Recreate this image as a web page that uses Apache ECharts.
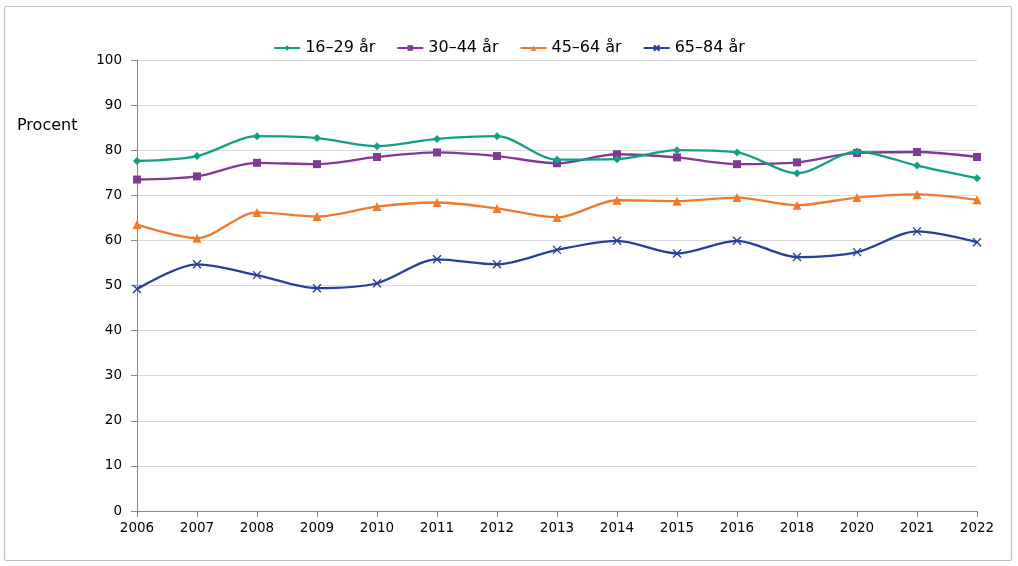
<!DOCTYPE html>
<html><head><meta charset="utf-8">
<script src="https://cdn.jsdelivr.net/npm/echarts@6/dist/echarts.min.js"></script>
<style>html,body{margin:0;padding:0;background:#fff}#c{width:1018px;height:566px}</style>
</head><body><div id="c"></div>
<script>
const years = ['2006','2007','2008','2009','2010','2011','2012','2013','2014','2015','2016','2018','2020','2021','2022'];
const yTicks = [0,10,20,30,40,50,60,70,80,90,100];
const s16_29 = [77.6,78.7,83.1,82.7,80.9,82.5,83.1,77.9,78.0,80.0,79.5,74.9,79.7,76.6,73.8];
const s30_44 = [73.5,74.2,77.2,76.9,78.5,79.5,78.7,77.1,79.1,78.4,76.9,77.3,79.4,79.6,78.5];
const s45_64 = [63.5,60.5,66.2,65.3,67.5,68.4,67.1,65.1,68.9,68.7,69.5,67.8,69.5,70.2,69.0];
const s65_84 = [49.2,54.7,52.3,49.4,50.5,55.8,54.7,57.9,59.9,57.1,59.9,56.3,57.4,62.0,59.6];
const names = ['16–29 år','30–44 år','45–64 år','65–84 år'];
const colors = ['#12a085','#7f3a93','#f07a2c','#263f98'];
const symbols = ['diamond','rect','triangle','path://M0,0L10,10M10,0L0,10'];
const sizes = [8,8,9,8];
const data = [s16_29,s30_44,s45_64,s65_84];
const FONT = 'DejaVu Sans';
const chart = echarts.init(document.getElementById('c'));
chart.setOption({
  animation:false,
  textStyle:{fontFamily:FONT},
  graphic:[{type:'rect',shape:{x:4.5,y:6.5,width:1007,height:554,r:2},style:{fill:'none',stroke:'#bfbfbf',lineWidth:1.2},silent:true},
           {type:'text',left:17,top:118,style:{text:'Procent',font:'16px "DejaVu Sans"',fill:'#000'}}],
  legend:{left:'center',top:35,itemWidth:26,itemHeight:7,itemGap:21,textStyle:{fontSize:16,color:'#000',fontFamily:FONT},
    data:names.map((n,i)=>({name:n}))},
  grid:{left:137,right:41,top:60,bottom:55,containLabel:false},
  xAxis:{type:'category',data:years,boundaryGap:false,
    axisLine:{lineStyle:{color:'#868686',width:1}},
    axisTick:{show:true,alignWithLabel:true,length:6,lineStyle:{color:'#868686'}},
    axisLabel:{color:'#000',fontSize:13.5,margin:10,fontFamily:FONT},
    splitLine:{show:false}},
  yAxis:{type:'value',min:0,max:100,interval:10,
    axisLine:{show:true,lineStyle:{color:'#868686',width:1}},
    axisTick:{show:true,length:6,lineStyle:{color:'#868686'}},
    axisLabel:{color:'#000',fontSize:13.5,margin:15,fontFamily:FONT,formatter:v=>yTicks.includes(v)?String(v):''},
    splitLine:{show:true,lineStyle:{color:'#d9d9d9',width:1}}},
  series:data.map((d,i)=>({
    name:names[i],type:'line',data:d,smooth:0.3,
    symbol:symbols[i],symbolSize:sizes[i],showSymbol:true,
    lineStyle:{color:colors[i],width:2.3},
    itemStyle:{color:i===3?'rgba(0,0,0,0)':colors[i],borderColor:colors[i],borderWidth:i===3?1.4:0},
    z:10-i
  }))
});
</script></body></html>
